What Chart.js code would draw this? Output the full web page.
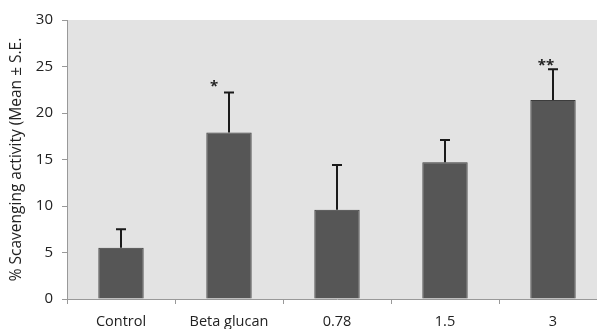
<!DOCTYPE html>
<html>
<head>
<meta charset="utf-8">
<script src="https://cdn.jsdelivr.net/npm/chart.js@4"></script>
<style>
html,body{margin:0;padding:0;background:#fff;overflow:hidden;width:597px;height:329px;}
#wrap{position:relative;width:610px;height:329px;}
</style>
</head>
<body>
<div id="wrap"><canvas id="c" width="610" height="329"></canvas></div>
<script>
const categories = ["Control", "Beta glucan", "0.78", "1.5", "3"];
const means = [5.5, 17.9, 9.6, 14.7, 21.4];
const errors = [2.0, 4.3, 4.8, 2.4, 3.3];
const significance = ["", "*", "", "", "**"];
const yTicks = [0, 5, 10, 15, 20, 25, 30];
const yTitle = "% Scavenging activity (Mean \u00b1 S.E.";

const FONT = "'Open Sans', 'Liberation Sans', sans-serif";

const extras = {
  id: 'extras',
  beforeDraw(chart) {
    const {ctx, chartArea: a} = chart;
    ctx.save();
    ctx.fillStyle = '#e3e3e3';
    ctx.fillRect(a.left, a.top, a.right - a.left, a.bottom - a.top);
    ctx.restore();
  },
  afterDatasetsDraw(chart) {
    const {ctx, scales: {y}} = chart;
    const meta = chart.getDatasetMeta(0);
    ctx.save();
    meta.data.forEach((bar, i) => {
      const x = bar.x;
      const yTop = y.getPixelForValue(means[i] + errors[i]);
      const yBase = y.getPixelForValue(means[i]);
      ctx.strokeStyle = '#1a1a1a';
      ctx.lineWidth = 2;
      ctx.beginPath();
      ctx.moveTo(x, yBase);
      ctx.lineTo(x, yTop);
      ctx.moveTo(x - 5, yTop);
      ctx.lineTo(x + 5, yTop);
      ctx.stroke();
      const s = significance[i];
      if (s) {
        ctx.fillStyle = '#222';
        ctx.font = 'bold 15px ' + FONT;
        ctx.textAlign = 'center';
        ctx.textBaseline = 'middle';
        const dx = s.length > 1 ? -7 : -15;
        const dy = s.length > 1 ? -4 : -6;
        ctx.fillText(s, x + dx, yTop + dy);
      }
    });
    ctx.restore();
  }
};

new Chart(document.getElementById('c'), {
  type: 'bar',
  data: {
    labels: categories,
    datasets: [{
      data: means,
      backgroundColor: '#565656',
      borderColor: '#3c3c3c',
      borderWidth: 1,
      barPercentage: 0.42,
      categoryPercentage: 1.0
    }]
  },
  options: {
    responsive: false,
    animation: false,
    devicePixelRatio: 1,
    layout: {padding: {left: 0, top: 20, right: 3, bottom: 0}},
    plugins: {legend: {display: false}, tooltip: {enabled: false}},
    scales: {
      x: {
        grid: {display: true, drawOnChartArea: false, drawTicks: true, tickLength: 5, color: '#999', offset: true},
        border: {display: true, color: '#999', width: 1},
        ticks: {color: '#222', font: {family: FONT, size: 14.5}, padding: 9, maxRotation: 0},
        afterFit(s) { s.height = 30; }
      },
      y: {
        min: 0, max: 30,
        afterBuildTicks(s) { s.ticks = yTicks.map(v => ({value: v})); },
        grid: {display: true, drawOnChartArea: false, drawTicks: true, tickLength: 5, color: '#999'},
        border: {display: true, color: '#999', width: 1},
        ticks: {color: '#222', font: {family: FONT, size: 15}, padding: 9},
        title: {display: true, text: yTitle, color: '#222', font: {family: FONT, size: 15.5}, padding: {top: 7, bottom: 0}},
        afterFit(s) { s.width = 67; }
      }
    }
  },
  plugins: [extras]
});
</script>
</body>
</html>
